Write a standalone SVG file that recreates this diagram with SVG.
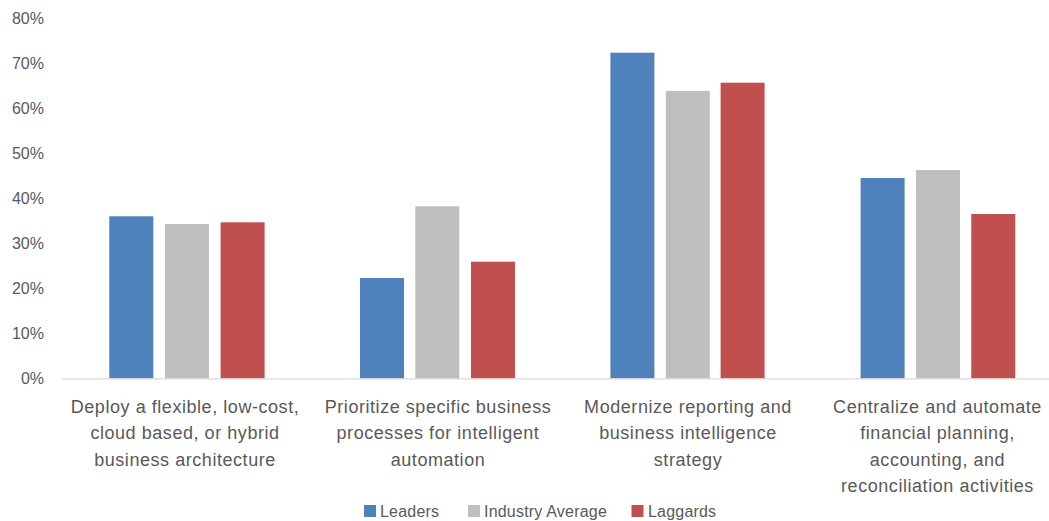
<svg xmlns="http://www.w3.org/2000/svg" width="1049" height="521" viewBox="0 0 1049 521">
<style>
text{font-family:"Liberation Sans",Arial,sans-serif;fill:#595959}
.ax{font-size:16px;text-anchor:end}
.cat{font-size:18px;letter-spacing:0.55px;text-anchor:middle}
.lg{font-size:16px;letter-spacing:0.2px}
.b{fill:#4F81BD}.g{fill:#BFBFBF}.r{fill:#C0504D}
</style>
<rect width="1049" height="521" fill="#fff"/>
<g id="y-axis">
<text class="ax" x="44" y="24">80%</text>
<text class="ax" x="44" y="69">70%</text>
<text class="ax" x="44" y="114">60%</text>
<text class="ax" x="44" y="159">50%</text>
<text class="ax" x="44" y="204">40%</text>
<text class="ax" x="44" y="249">30%</text>
<text class="ax" x="44" y="294">20%</text>
<text class="ax" x="44" y="339">10%</text>
<text class="ax" x="44" y="384">0%</text>
</g>
<g id="bars">
<rect class="b" x="109.3" y="216.3" width="44" height="162.2"/>
<rect class="g" x="165" y="224" width="44" height="154.5"/>
<rect class="r" x="220.6" y="222.3" width="44" height="156.2"/>
<rect class="b" x="360" y="278" width="44" height="100.5"/>
<rect class="g" x="415.3" y="206.3" width="44" height="172.2"/>
<rect class="r" x="471" y="261.7" width="44" height="116.8"/>
<rect class="b" x="610.4" y="52.7" width="44" height="325.8"/>
<rect class="g" x="665.8" y="91" width="44" height="287.5"/>
<rect class="r" x="720.6" y="82.7" width="44" height="295.8"/>
<rect class="b" x="860.6" y="178" width="44" height="200.5"/>
<rect class="g" x="916" y="170" width="44" height="208.5"/>
<rect class="r" x="971.3" y="214" width="44" height="164.5"/>
</g>
<g id="connectors">
<line x1="62" y1="378.8" x2="1049" y2="378.8" stroke="#d9d9d9" stroke-width="1.3"/>
</g>
<g id="cat1">
<text class="cat" x="185" y="413">Deploy a flexible, low-cost,</text>
<text class="cat" x="185" y="439.3">cloud based, or hybrid</text>
<text class="cat" x="185" y="465.6">business architecture</text>
</g>
<g id="cat2">
<text class="cat" x="438" y="413">Prioritize specific business</text>
<text class="cat" x="438" y="439.3">processes for intelligent</text>
<text class="cat" x="438" y="465.6">automation</text>
</g>
<g id="cat3">
<text class="cat" x="688" y="413">Modernize reporting and</text>
<text class="cat" x="688" y="439.3">business intelligence</text>
<text class="cat" x="688" y="465.6">strategy</text>
</g>
<g id="cat4">
<text class="cat" x="937.5" y="413">Centralize and automate</text>
<text class="cat" x="937.5" y="439.3">financial planning,</text>
<text class="cat" x="937.5" y="465.6">accounting, and</text>
<text class="cat" x="937.5" y="491.9">reconciliation activities</text>
</g>
<g id="legend">
<rect class="b" x="364" y="505" width="12" height="12"/>
<text class="lg" x="380" y="517">Leaders</text>
<rect class="g" x="468" y="505" width="12" height="12"/>
<text class="lg" x="484" y="517">Industry Average</text>
<rect class="r" x="631.5" y="505" width="12" height="12"/>
<text class="lg" x="648" y="517">Laggards</text>
</g>
</svg>
